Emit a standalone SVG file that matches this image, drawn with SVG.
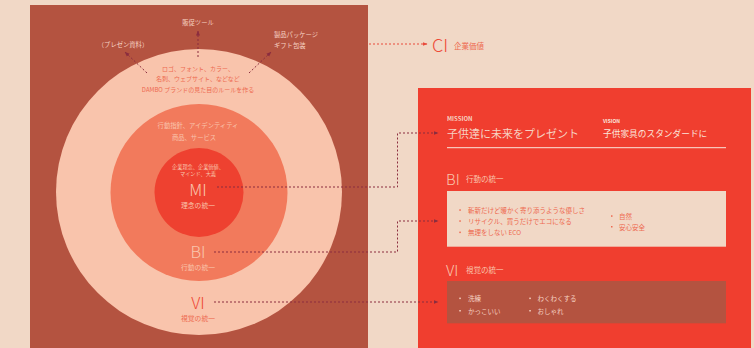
<svg xmlns="http://www.w3.org/2000/svg" width="754" height="348" viewBox="0 0 754 348">
<style>
text{font-family:"Noto Sans CJK JP","Noto Sans",sans-serif;dominant-baseline:central}
.c{text-anchor:middle}
.lt{fill:#F6D2C2}
.pk{fill:#F9C4AC}
.rd{fill:#EE6A50}
.big{font-weight:300;font-size:16.5px}
.s6{font-size:6.3px}
.s7{font-size:6.8px}
.conn{fill:none;stroke:#8B2D3F;stroke-width:1;stroke-dasharray:2 2}
.bul{fill:#EE6A50}
.bulL{fill:#F6D2C2}
</style>
<defs>
<marker id="ah" viewBox="0 0 10 10" refX="9" refY="5" markerWidth="5" markerHeight="5" orient="auto" markerUnits="userSpaceOnUse"><path d="M0,1 L10,5 L0,9z" fill="#8B2D3F"/></marker>
<marker id="ahr" viewBox="0 0 10 10" refX="9" refY="5" markerWidth="5" markerHeight="5" orient="auto" markerUnits="userSpaceOnUse"><path d="M0,1 L10,5 L0,9z" fill="#E94A3B"/></marker>
</defs>
<rect width="754" height="348" fill="#F1D8C6"/>
<g id="left-panel">
<rect x="30" y="5" width="338" height="343" fill="#B45340"/>
<text class="lt s6 c" x="198" y="22">販促ツール</text>
<text class="lt s6 c" x="123" y="44">（プレゼン資料）</text>
<text class="lt s6" x="274" y="34">製品パッケージ</text>
<text class="lt s6" x="274" y="45">ギフト包装</text>
</g>
<g id="circle-vi">
<circle cx="199" cy="192" r="143" fill="#F9C4AC"/>
<text class="rd c" x="198" y="68" font-size="6">ロゴ、フォント、カラー、</text>
<text class="rd c" x="198" y="78.5" font-size="6">名刺、ウェブサイト、などなど</text>
<text class="rd c" x="198" y="89" font-size="6">DAMBO ブランドの見た目のルールを作る</text>
<text class="big c" x="198" y="302" fill="#EE4A36">VI</text>
<text class="s7 c" x="198" y="318" fill="#EE6A50">視覚の統一</text>
</g>
<g id="circle-bi">
<circle cx="199" cy="192.5" r="88.5" fill="#F27A5C"/>
<text class="pk s6 c" x="198" y="125.5">行動指針、アイデンティティ</text>
<text class="pk s6 c" x="194" y="137">商品、サービス</text>
<text class="big c pk" x="198" y="250.5">BI</text>
<text class="s7 c pk" x="198" y="266.5">行動の統一</text>
</g>
<g id="circle-mi">
<circle cx="199" cy="192.5" r="44.5" fill="#EE4130"/>
<text class="pk c" x="198" y="166" font-size="5.2">企業理念、企業価値、</text>
<text class="pk c" x="198" y="173" font-size="5.2">マインド、大義</text>
<text class="big c pk" x="198" y="188.5">MI</text>
<text class="s7 c pk" x="198" y="205">理念の統一</text>
</g>
<g id="ci">
<text x="432" y="44" font-size="18" font-weight="300" fill="#EE4A36">CI</text>
<text x="454" y="45" font-size="7.5" fill="#EE6A50">企業価値</text>
</g>
<g id="right-panel">
<rect x="418" y="88" width="333" height="260" fill="#F03E2F"/>
<text x="447" y="118.5" font-size="6" font-weight="bold" class="lt">MISSION</text>
<text x="447" y="133" font-size="11" class="lt">子供達に未来をプレゼント</text>
<text x="603" y="120.5" font-size="5" font-weight="bold" fill="#FBE6DC">VISION</text>
<text x="603" y="133" font-size="8.7" fill="#FBE6DC">子供家具のスタンダードに</text>
<line x1="447" y1="147.7" x2="726" y2="147.7" stroke="#FBE6DC" stroke-width="1"/>
</g>
<g id="bi-box">
<text x="446" y="178" font-size="15" font-weight="300" class="pk">BI</text>
<text x="466" y="178" font-size="7.5" class="pk">行動の統一</text>
<rect x="447" y="191" width="279" height="55.7" fill="#F1D8C6"/>
<rect class="bul" x="459.3" y="209.3" width="1.5" height="1.5"/>
<rect class="bul" x="459.3" y="220.3" width="1.5" height="1.5"/>
<rect class="bul" x="459.3" y="231.6" width="1.5" height="1.5"/>
<text class="rd" x="468" y="210" font-size="6.5">斬新だけど暖かく寄り添うような優しさ</text>
<text class="rd" x="468" y="221" font-size="6.5">リサイクル、買うだけでエコになる</text>
<text class="rd" x="468" y="232.3" font-size="6.5">無理をしない ECO</text>
<rect class="bul" x="611" y="215.3" width="1.5" height="1.5"/>
<rect class="bul" x="611" y="226" width="1.5" height="1.5"/>
<text class="rd" x="619" y="216" font-size="6.5">自然</text>
<text class="rd" x="619" y="226.7" font-size="6.5">安心安全</text>
</g>
<g id="vi-box">
<text x="446" y="269.5" font-size="15" font-weight="300" class="pk">VI</text>
<text x="466" y="269.5" font-size="7.5" class="pk">視覚の統一</text>
<rect x="447" y="281" width="279" height="42.3" fill="#B45340"/>
<rect class="bulL" x="459.3" y="297.6" width="1.5" height="1.5"/>
<rect class="bulL" x="459.3" y="310" width="1.5" height="1.5"/>
<text class="lt" x="468" y="298.3" font-size="6.5">洗練</text>
<text class="lt" x="468" y="310.7" font-size="6.5">かっこいい</text>
<rect class="bulL" x="529.3" y="297.6" width="1.5" height="1.5"/>
<rect class="bulL" x="529.3" y="310" width="1.5" height="1.5"/>
<text class="lt" x="537.5" y="298.3" font-size="6.5">わくわくする</text>
<text class="lt" x="537.5" y="310.7" font-size="6.5">おしゃれ</text>
</g>
<g id="connectors">
<path class="conn" d="M198,57 V31" marker-end="url(#ah)"/>
<path class="conn" d="M147,73 L125,52" marker-end="url(#ah)"/>
<path class="conn" d="M249,73 L271,52" marker-end="url(#ah)"/>
<path class="conn" d="M217,187 H397.5 V133 H438" marker-end="url(#ah)"/>
<path class="conn" d="M214,252 H397.5 V221 H438" marker-end="url(#ah)"/>
<path class="conn" d="M214,302 H438" marker-end="url(#ah)"/>
<path class="conn" style="stroke:#E94A3B" d="M369,44 H427" marker-end="url(#ahr)"/>
</g>
</svg>
